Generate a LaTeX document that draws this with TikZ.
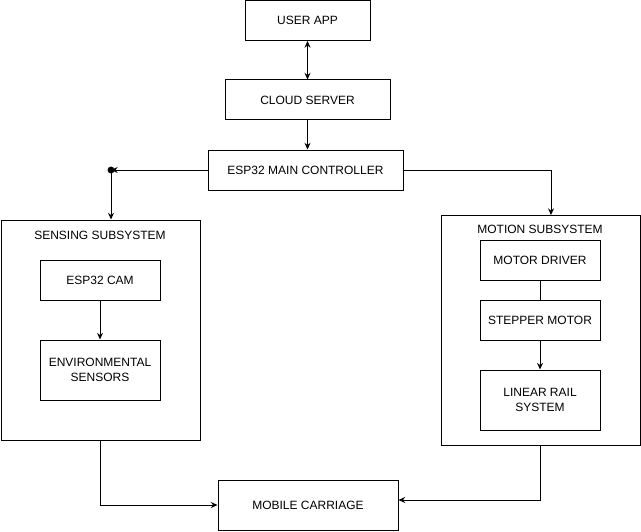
\documentclass[tikz,border=0pt]{standalone}
\usepackage{fontspec}
\setmainfont{Liberation Sans}
\usetikzlibrary{arrows.meta}
\begin{document}
\begin{tikzpicture}[x=0.75pt,y=-0.75pt,
  blk/.style={draw=black,line width=0.75pt,inner sep=0pt,align=center,font=\fontsize{9}{11}\selectfont},
  lbl/.style={inner sep=0pt,font=\fontsize{9}{11}\selectfont},
  conn/.style={line width=0.75pt,draw=black},
  arr/.style={conn,-{Stealth[length=5pt,width=4.5pt]}},
  darr/.style={conn,{Stealth[length=5pt,width=4.5pt]}-{Stealth[length=5pt,width=4.5pt]}}]
\useasboundingbox (0,0) rectangle (641,531);
% nodes
\node[blk,minimum width=125*0.75pt,minimum height=40*0.75pt] (app) at (307.5,20.5) {USER APP};
\node[blk,minimum width=165*0.75pt,minimum height=40*0.75pt] (cloud) at (307.5,100) {CLOUD SERVER};
\node[blk,minimum width=195*0.75pt,minimum height=40*0.75pt] (esp) at (305.5,170) {ESP32 MAIN CONTROLLER};
\node[blk,minimum width=199*0.75pt,minimum height=220*0.75pt] (sens) at (100.5,330) {};
\node[lbl] (senslbl) at (100,235) {SENSING SUBSYSTEM};
\node[blk,minimum width=120*0.75pt,minimum height=40*0.75pt] (cam) at (100,280) {ESP32 CAM};
\node[blk,minimum width=120*0.75pt,minimum height=60*0.75pt] (env) at (100,370) {ENVIRONMENTAL\\SENSORS};
\node[blk,minimum width=199*0.75pt,minimum height=230*0.75pt] (motion) at (540.5,330) {};
\node[lbl] (motlbl) at (540,229) {MOTION SUBSYSTEM};
\node[blk,minimum width=120*0.75pt,minimum height=40*0.75pt] (driver) at (540,260) {MOTOR DRIVER};
\node[blk,minimum width=120*0.75pt,minimum height=40*0.75pt] (stepper) at (540,320) {STEPPER MOTOR};
\node[blk,minimum width=120*0.75pt,minimum height=60*0.75pt] (rail) at (540,400) {LINEAR RAIL\\SYSTEM};
\node[blk,minimum width=180*0.75pt,minimum height=50*0.75pt] (cart) at (308,505) {MOBILE CARRIAGE};
% junctions
\coordinate (j) at (111,170);
\coordinate (mt) at (551,215);
% connectors
\draw[darr] (app.south) -- (cloud.north);
\draw[arr] (cloud.south) -- (cloud.south |- esp.north);
\draw[arr] (esp.west) -- (j);
\fill (j) circle (2.6pt);
\draw[arr] (j) -- (j |- sens.north);
\draw[arr] (esp.east) -| (mt);
\draw[arr] (cam.south) -- (env.north);
\draw[conn] (driver.south) -- (stepper.north);
\draw[arr] (stepper.south) -- (rail.north);
\draw[arr] (sens.south) |- (cart.west);
\draw[arr] (motion.south) |- ([yshift=3.75pt]cart.east);
\end{tikzpicture}
\end{document}
